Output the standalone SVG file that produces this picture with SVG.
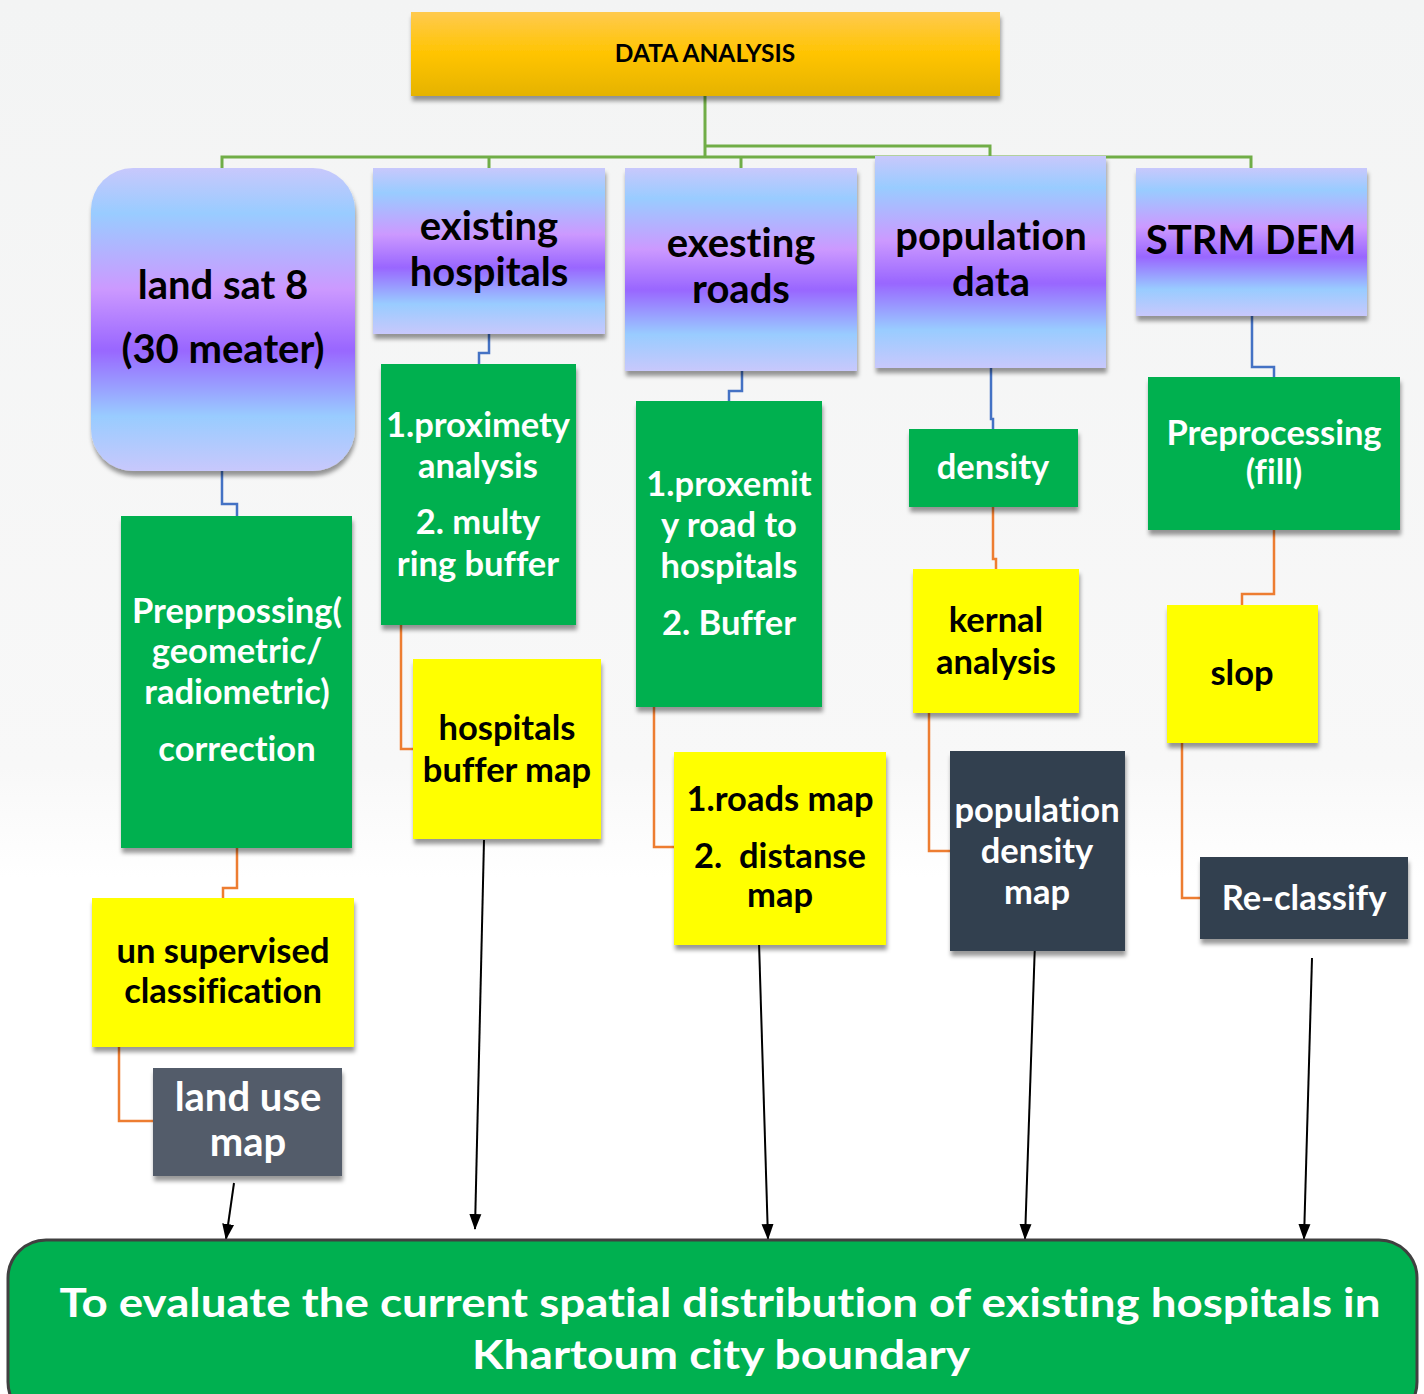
<svg xmlns="http://www.w3.org/2000/svg" width="1424" height="1394" viewBox="0 0 1424 1394">
<defs>
<linearGradient id="bg" x1="0" y1="0" x2="0" y2="1">
<stop offset="0" stop-color="#f3f4f4"/>
<stop offset="0.55" stop-color="#f8f8f8"/>
<stop offset="0.63" stop-color="#ffffff"/>
<stop offset="1" stop-color="#ffffff"/>
</linearGradient>
<linearGradient id="gold" x1="0" y1="0" x2="0" y2="1">
<stop offset="0" stop-color="#ffca4f"/>
<stop offset="0.5" stop-color="#ffc400"/>
<stop offset="1" stop-color="#e5b300"/>
</linearGradient>
<linearGradient id="purp" x1="0" y1="0" x2="0" y2="1">
<stop offset="0" stop-color="#c8c8fc"/>
<stop offset="0.15" stop-color="#99ccff"/>
<stop offset="0.4" stop-color="#cc99ff"/>
<stop offset="0.6" stop-color="#9966ff"/>
<stop offset="0.82" stop-color="#99ccff"/>
<stop offset="1" stop-color="#c8c8fc"/>
</linearGradient>
<filter id="sh" x="-10%" y="-10%" width="125%" height="130%">
<feDropShadow dx="1" dy="5" stdDeviation="2" flood-color="#000" flood-opacity="0.4"/>
</filter>
<marker id="arr" viewBox="0 0 16 14" refX="15" refY="7" markerWidth="16" markerHeight="14" markerUnits="userSpaceOnUse" orient="auto">
<path d="M0,1 L16,7 L0,13 Z" fill="#000"/>
</marker>
<style>
.t{font-family:Lato,"Liberation Sans",sans-serif;font-weight:bold;text-anchor:middle;font-variant-ligatures:none;white-space:pre}
.lg{font-size:40px}
.md{font-size:34.5px}
.blk{fill:#000}
.wht{fill:#fff}
.grn{fill:#00b050}
.yel{fill:#ffff00}
.drk{fill:#333f50}
.g{fill:none;stroke:#70ad47;stroke-width:3}
.b{fill:none;stroke:#4472c4;stroke-width:2.5}
.o{fill:none;stroke:#ed7d31;stroke-width:2.5}
.a{fill:none;stroke:#000;stroke-width:2;marker-end:url(#arr)}
</style>
</defs>
<rect x="0" y="0" width="1424" height="1394" fill="url(#bg)"/>

<g id="connectors">
<polyline class="g" points="705,96 705,157"/>
<polyline class="g" points="705,146 990,146 990,156"/>
<polyline class="g" points="222,168 222,157 1251,157 1251,168"/>
<polyline class="g" points="489,157 489,168"/>
<polyline class="g" points="741,157 741,168"/>
<polyline class="b" points="222,471 222,504 237,504 237,516"/>
<polyline class="b" points="489,334 489,353 479,353 479,364"/>
<polyline class="b" points="742,371 742,391 729,391 729,401"/>
<polyline class="b" points="991,368 991,419 993,419 993,429"/>
<polyline class="b" points="1252,316 1252,367 1274,367 1274,377"/>
<polyline class="o" points="237,848 237,888 223,888 223,898"/>
<polyline class="o" points="119,1047 119,1121 153,1121"/>
<polyline class="o" points="401,625 401,749 413,749"/>
<polyline class="o" points="654,707 654,847 674,847"/>
<polyline class="o" points="993,507 993,559 996,559 996,569"/>
<polyline class="o" points="929,713 929,851 950,851"/>
<polyline class="o" points="1274,530 1274,594 1242,594 1242,605"/>
<polyline class="o" points="1182,743 1182,898 1200,898"/>
<line class="a" x1="234" y1="1183" x2="226" y2="1239"/>
<line class="a" x1="484" y1="840" x2="475" y2="1229"/>
<line class="a" x1="759" y1="942" x2="768" y2="1239"/>
<line class="a" x1="1035" y1="942" x2="1025" y2="1239"/>
<line class="a" x1="1312" y1="958" x2="1304" y2="1239"/>
</g>

<g id="data-analysis">
<rect x="411" y="12" width="589" height="84" fill="url(#gold)" filter="url(#sh)"/>
<text class="t blk" x="705" y="62" font-size="24.5">DATA ANALYSIS</text>
</g>

<g id="landsat">
<rect x="91" y="168" width="264" height="303" rx="42" fill="url(#purp)" filter="url(#sh)"/>
<text class="t lg blk" x="223" y="299">land sat 8</text>
<text class="t lg blk" x="223" y="363">(30 meater)</text>
</g>

<g id="existing-hospitals">
<rect x="373" y="168" width="232" height="166" fill="url(#purp)" filter="url(#sh)"/>
<text class="t lg blk" x="489" y="240">existing</text>
<text class="t lg blk" x="489" y="286">hospitals</text>
</g>

<g id="exesting-roads">
<rect x="625" y="168" width="232" height="203" fill="url(#purp)" filter="url(#sh)"/>
<text class="t lg blk" x="741" y="257">exesting</text>
<text class="t lg blk" x="741" y="303">roads</text>
</g>

<g id="population-data">
<rect x="875" y="156" width="231" height="212" fill="url(#purp)" filter="url(#sh)"/>
<text class="t lg blk" x="991" y="250">population</text>
<text class="t lg blk" x="991" y="296">data</text>
</g>

<g id="strm-dem">
<rect x="1136" y="168" width="231" height="148" fill="url(#purp)" filter="url(#sh)"/>
<text class="t lg blk" x="1251" y="254">STRM DEM</text>
</g>

<g id="preprocessing-landsat">
<rect class="grn" x="121" y="516" width="231" height="332" filter="url(#sh)"/>
<text class="t md wht" x="237" y="623">Preprpossing(</text>
<text class="t md wht" x="237" y="663">geometric/</text>
<text class="t md wht" x="237" y="704">radiometric)</text>
<text class="t md wht" x="237" y="761">correction</text>
</g>

<g id="proximety-analysis">
<rect class="grn" x="381" y="364" width="195" height="261" filter="url(#sh)"/>
<text class="t md wht" x="478" y="437">1.proximety</text>
<text class="t md wht" x="478" y="478">analysis</text>
<text class="t md wht" x="478" y="534">2. multy</text>
<text class="t md wht" x="478" y="576">ring buffer</text>
</g>

<g id="proxemity-roads">
<rect class="grn" x="636" y="401" width="186" height="306" filter="url(#sh)"/>
<text class="t md wht" x="729" y="496">1.proxemit</text>
<text class="t md wht" x="729" y="537">y road to</text>
<text class="t md wht" x="729" y="578">hospitals</text>
<text class="t md wht" x="729" y="635">2. Buffer</text>
</g>

<g id="density">
<rect class="grn" x="909" y="429" width="169" height="78" filter="url(#sh)"/>
<text class="t md wht" x="993" y="479">density</text>
</g>

<g id="preprocessing-fill">
<rect class="grn" x="1148" y="377" width="252" height="153" filter="url(#sh)"/>
<text class="t md wht" x="1274" y="445">Preprocessing</text>
<text class="t md wht" x="1274" y="484">(fill)</text>
</g>

<g id="unsupervised">
<rect class="yel" x="92" y="898" width="262" height="149" filter="url(#sh)"/>
<text class="t md blk" x="223" y="963">un supervised</text>
<text class="t md blk" x="223" y="1003">classification</text>
</g>

<g id="land-use-map">
<rect x="153" y="1068" width="189" height="108" fill="#525c6b" filter="url(#sh)"/>
<text class="t lg wht" x="248" y="1111">land use</text>
<text class="t lg wht" x="248" y="1156">map</text>
</g>

<g id="hospitals-buffer-map">
<rect class="yel" x="413" y="659" width="188" height="180" filter="url(#sh)"/>
<text class="t md blk" x="507" y="740">hospitals</text>
<text class="t md blk" x="507" y="782">buffer map</text>
</g>

<g id="roads-map">
<rect class="yel" x="674" y="752" width="212" height="193" filter="url(#sh)"/>
<text class="t md blk" x="780" y="811">1.roads map</text>
<text class="t md blk" x="780" y="868">2.  distanse</text>
<text class="t md blk" x="780" y="907">map</text>
</g>

<g id="kernal-analysis">
<rect class="yel" x="913" y="569" width="166" height="144" filter="url(#sh)"/>
<text class="t md blk" x="996" y="632">kernal</text>
<text class="t md blk" x="996" y="674">analysis</text>
</g>

<g id="population-density-map">
<rect class="drk" x="950" y="751" width="175" height="200" filter="url(#sh)"/>
<text class="t md wht" x="1037" y="822">population</text>
<text class="t md wht" x="1037" y="863">density</text>
<text class="t md wht" x="1037" y="904">map</text>
</g>

<g id="slop">
<rect class="yel" x="1167" y="605" width="151" height="138" filter="url(#sh)"/>
<text class="t md blk" x="1242" y="685">slop</text>
</g>

<g id="reclassify">
<rect class="drk" x="1200" y="857" width="208" height="82" filter="url(#sh)"/>
<text class="t md wht" x="1304" y="910">Re-classify</text>
</g>

<g id="goal">
<rect x="8" y="1240" width="1409" height="180" rx="38" fill="#00b050" stroke="#404040" stroke-width="3"/>
<text class="t wht" x="720" y="1317" font-size="41" textLength="1321" lengthAdjust="spacingAndGlyphs">To evaluate the current spatial distribution of existing hospitals in</text>
<text class="t wht" x="721" y="1369" font-size="41" textLength="498" lengthAdjust="spacingAndGlyphs">Khartoum city boundary</text>
</g>
</svg>
